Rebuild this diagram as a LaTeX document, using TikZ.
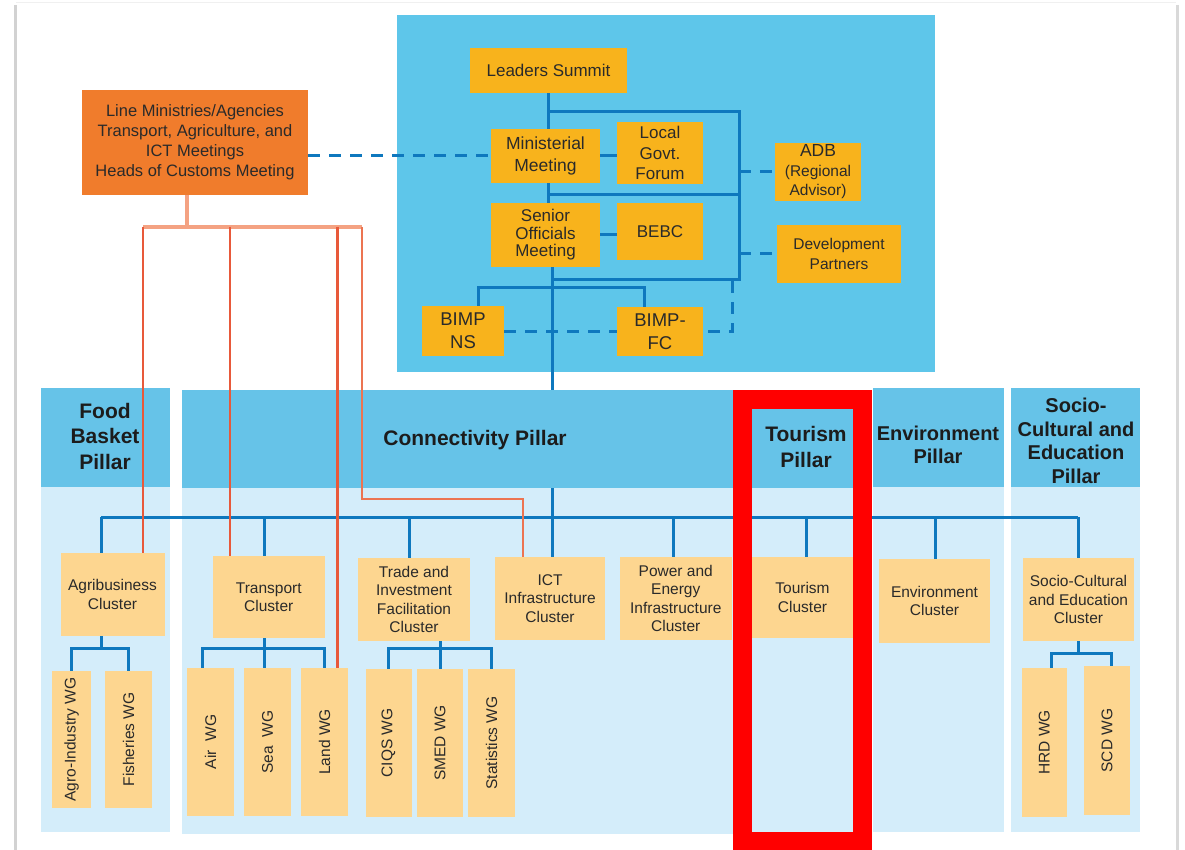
\documentclass[tikz,border=0pt]{standalone}
\usepackage{fontspec}
\setmainfont{Liberation Sans}
\usetikzlibrary{calc}
\definecolor{topblue}{HTML}{5EC6EA}
\definecolor{hblue}{HTML}{66C3E8}
\definecolor{lblue}{HTML}{D4EDFA}
\definecolor{gold}{HTML}{F8B31C}
\definecolor{lgold}{HTML}{FDD690}
\definecolor{orng}{HTML}{F07C2C}
\definecolor{lineblue}{HTML}{0E78BE}
\definecolor{redline}{HTML}{E8593A}
\definecolor{salmon}{HTML}{F4A282}
\definecolor{mixline}{HTML}{EC7451}
\definecolor{txt}{HTML}{2A2A2A}
\definecolor{htxt}{HTML}{1C1C1C}
\pgfdeclarelayer{lzero}
\pgfdeclarelayer{lone}
\pgfdeclarelayer{ltwo}
\pgfsetlayers{lzero,lone,ltwo,main}
\begin{document}
\begin{tikzpicture}[x=1pt,y=-1pt,
  gbox/.style={fill=gold, inner sep=0pt, align=center, text=txt},
  obox/.style={fill=orng, inner sep=0pt, align=center, text=txt},
  cbox/.style={fill=lgold, inner sep=0pt, align=center, text=txt, font=\fontsize{15.5}{18.5}\selectfont},
  wbox/.style={fill=lgold, inner sep=0pt, text=txt, font=\fontsize{15.5}{18}\selectfont},
  bl/.style={draw=lineblue, line width=3pt},
  bd/.style={draw=lineblue, line width=3pt, dash pattern=on 12pt off 9pt},
  rl/.style={draw=redline, line width=2.4pt},
  sl/.style={draw=salmon, line width=3.2pt},
  ml/.style={draw=mixline, line width=2.8pt},
  htext/.style={font=\bfseries\fontsize{21}{25.5}\selectfont, align=center, text=htxt},
  htexts/.style={font=\bfseries\fontsize{20}{23.5}\selectfont, align=center, text=htxt},
]
\useasboundingbox (0,0) rectangle (1185,850);

% ---------- backgrounds ----------
\begin{pgfonlayer}{lzero}
  \fill[white] (0,0) rectangle (1185,850);
  \draw[gray!35, line width=3pt] (15.5,5) -- (15.5,850);
  \draw[gray!30, line width=3pt] (1177.5,5) -- (1177.5,850);
  \draw[gray!12, line width=1pt] (16,3) -- (1176,3);
  \fill[topblue] (397,15) rectangle (935,372);
  \fill[lblue] (41,487) rectangle (170,832);
  \fill[lblue] (182,488) rectangle (870,834);
  \fill[lblue] (873,487) rectangle (1004,832);
  \fill[lblue] (1011,487) rectangle (1140,832);
\end{pgfonlayer}
\begin{pgfonlayer}{ltwo}
  \fill[hblue] (41,388) rectangle (170,487);
  \fill[hblue] (182,390) rectangle (870,488);
  \fill[hblue] (873,388) rectangle (1004,487);
  \fill[hblue] (1011,388) rectangle (1140,487);
\end{pgfonlayer}

% ---------- pillar titles ----------
\node[htext] (tfood) at (105,436) {Food\\Basket\\Pillar};
\node[htext] (tconn) at (475,440) {Connectivity Pillar};
\node[htext] (ttour) at (806,447) {Tourism\\Pillar};
\node[htexts] (tenv) at (938,445) {Environment\\Pillar};
\node[htexts] (tsoc) at (1076,441) {Socio-\\Cultural and\\Education\\Pillar};

% ---------- top governance boxes ----------
\node[gbox, minimum width=157pt, minimum height=45pt, font=\fontsize{17}{20}\selectfont] (leaders) at (548.5,70.5) {Leaders Summit};
\node[gbox, minimum width=109pt, minimum height=54pt, font=\fontsize{17.5}{22}\selectfont] (minis) at (545.5,156) {Ministerial\\Meeting};
\node[gbox, minimum width=86pt, minimum height=62pt, font=\fontsize{17}{20.5}\selectfont] (local) at (660,153) {Local\\Govt.\\Forum};
\node[gbox, minimum width=109pt, minimum height=64pt, font=\fontsize{17}{17.5}\selectfont] (senior) at (545.5,235) {Senior\\Officials\\Meeting};
\node[gbox, minimum width=86pt, minimum height=57pt, font=\fontsize{17}{20}\selectfont] (bebc) at (660,231.5) {BEBC};
\node[gbox, minimum width=82pt, minimum height=50pt, font=\fontsize{18.5}{23}\selectfont] (bimpns) at (463,331) {BIMP\\NS};
\node[gbox, minimum width=86pt, minimum height=49pt, font=\fontsize{18.5}{23}\selectfont] (bimpfc) at (660,331.5) {BIMP-\\FC};
\node[gbox, minimum width=86pt, minimum height=58pt, font=\fontsize{15.5}{19.5}\selectfont] (adb) at (818,172) {{\fontsize{17.5}{19.5}\selectfont ADB}\\(Regional\\Advisor)};
\node[gbox, minimum width=124pt, minimum height=58pt, font=\fontsize{15.5}{20}\selectfont] (dev) at (839,254) {Development\\Partners};
\node[obox, minimum width=226pt, minimum height=105pt, font=\fontsize{16.5}{20}\selectfont] (orange) at (195,142.5) {Line Ministries/Agencies\\Transport, Agriculture, and\\ICT Meetings\\Heads of Customs Meeting};

% ---------- clusters ----------
\node[cbox, minimum width=104pt, minimum height=83pt] (agri) at (112.5,594.5) {Agribusiness\\Cluster};
\node[cbox, minimum width=111.5pt, minimum height=82pt] (transport) at (268.75,597) {Transport\\Cluster};
\node[cbox, minimum width=112pt, minimum height=83pt] (trade) at (414,599.5) {Trade and\\Investment\\Facilitation\\Cluster};
\node[cbox, minimum width=110pt, minimum height=83pt] (ict) at (550,598.5) {ICT\\Infrastructure\\Cluster};
\node[cbox, minimum width=111.5pt, minimum height=83pt] (power) at (675.75,598.5) {Power and\\Energy\\Infrastructure\\Cluster};
\node[cbox, minimum width=115pt, minimum height=81pt] (tourism) at (802.5,597.5) {Tourism\\Cluster};
\node[cbox, minimum width=111pt, minimum height=84pt] (env) at (934.5,601) {Environment\\Cluster};
\node[cbox, minimum width=111pt, minimum height=83pt] (socio) at (1078.5,599.5) {Socio-Cultural\\and Education\\Cluster};

% ---------- working groups ----------
\node[wbox, minimum width=39pt, minimum height=137pt] (agro) at (71.5,739.5) {\rotatebox{90}{Agro-Industry WG}};
\node[wbox, minimum width=47pt, minimum height=137pt] (fish) at (128.5,739.5) {\rotatebox{90}{Fisheries WG}};
\node[wbox, minimum width=47pt, minimum height=148pt] (air) at (210.5,742) {\rotatebox{90}{Air\ \ WG}};
\node[wbox, minimum width=47pt, minimum height=148pt] (sea) at (267.5,742) {\rotatebox{90}{Sea\ \ WG}};
\node[wbox, minimum width=47pt, minimum height=148pt] (land) at (324.5,742) {\rotatebox{90}{Land WG}};
\node[wbox, minimum width=46pt, minimum height=148pt] (ciqs) at (388.5,743) {\rotatebox{90}{CIQS WG}};
\node[wbox, minimum width=46pt, minimum height=148pt] (smed) at (440,743) {\rotatebox{90}{SMED WG}};
\node[wbox, minimum width=47pt, minimum height=148pt] (stats) at (491.5,743) {\rotatebox{90}{Statistics WG}};
\node[wbox, minimum width=45.5pt, minimum height=149pt] (hrd) at (1044.25,742.5) {\rotatebox{90}{HRD WG}};
\node[wbox, minimum width=46pt, minimum height=149pt] (scd) at (1107,740.5) {\rotatebox{90}{SCD WG}};

% ---------- helper coordinates ----------
\coordinate (trunk) at (552,0);
\coordinate (brR) at (739,0);
\coordinate (b1) at (549,112);
\coordinate (b2) at (549,195);
\coordinate (b3) at (553,279);
\coordinate (dv) at (732,281);
\coordinate (bus) at (0,517);
\coordinate (xA) at (101,0);
\coordinate (xT) at (264,0);
\coordinate (xTr) at (409.5,0);
\coordinate (xP) at (673,0);
\coordinate (xTo) at (806,0);
\coordinate (xE) at (935,0);
\coordinate (xS) at (1078,0);
\coordinate (o1) at (143,227);
\coordinate (o2) at (230,227);
\coordinate (o3) at (337.5,227);
\coordinate (o4) at (362,227);
\coordinate (o5) at (523,499);

% ---------- top connectors ----------
\draw[bl] (leaders.south) -- (leaders.south |- minis.north);
\draw[bl] (leaders.south |- minis.south) -- (leaders.south |- senior.north);
\draw[bl] (b1) -- (b1 -| brR) -- (b3 -| brR) -- (b3);
\draw[bl] (b2) -- (b2 -| brR);
\draw[bl] (minis.east) -- (minis.east -| local.west);
\draw[bl] (senior.east) -- (senior.east -| bebc.west);
\draw[bl] ($(bimpns.north)+(15,0)$) |- ($(bimpfc.north)+(-16,-19)$) -- ($(bimpfc.north)+(-16,0)$);

\draw[bd] (orange.east |- minis.west) -- (minis.west);
\draw[bd] (adb.west -| brR) -- (adb.west);
\draw[bd] (dev.west -| brR) -- (dev.west);
\draw[bd] (dv) |- (bimpfc.east);
\draw[bd] (bimpns.east) -- (bimpns.east -| bimpfc.west);

\begin{pgfonlayer}{lone}
  \draw[bl] (senior.south -| trunk) -- (ict.north -| trunk);
\end{pgfonlayer}

% ---------- cluster bus ----------
\draw[bl] (xA |- bus) -- (xS |- bus);
\draw[bl] (xA |- bus) -- (xA |- agri.north);
\draw[bl] (xT |- bus) -- (xT |- transport.north);
\draw[bl] (xTr |- bus) -- (xTr |- trade.north);
\draw[bl] (xP |- bus) -- (xP |- power.north);
\draw[bl] (xTo |- bus) -- (xTo |- tourism.north);
\draw[bl] (xE |- bus) -- (xE |- env.north);
\draw[bl] (xS |- bus) -- (xS |- socio.north);

% ---------- working group trees ----------
\draw[bl] (xA |- agri.south) -- ($(xA |- agri.south)+(0,12)$);
\draw[bl] (agro.north) |- ($(xA |- agri.south)+(0,12)$) -| (fish.north);
\draw[bl] (xT |- transport.south) -- (xT |- sea.north);
\draw[bl] ($(air.north)+(-8,0)$) |- ($(xT |- transport.south)+(0,10)$) -| (land.north);
\draw[bl] (trade.south -| smed.north) -- (smed.north);
\draw[bl] (ciqs.north) |- ($(trade.south)+(0,7)$) -| (stats.north);
\draw[bl] (socio.south) -- ($(socio.south)+(0,12)$);
\draw[bl] ($(hrd.north)+(7,0)$) |- ($(socio.south)+(0,12)$) -| ($(scd.north)+(4,0)$);

% ---------- line ministries connectors ----------
\draw[sl] ($(orange.south)+(-8,0)$) -- ($(orange.south)+(-8,32)$);
\draw[sl] (o1) -- (o4);
\draw[rl] (o1) -- (o1 |- agri.north);
\draw[rl] (o2) -- (o2 |- transport.north);
\draw[rl] (o3) -- (o3 |- land.north);
\draw[ml] (o4) |- (o5) -- (o5 |- ict.north);

% ---------- highlight ----------
\draw[draw=red, line width=19pt] (742.5,399) rectangle (862.5,841);
\end{tikzpicture}
\end{document}
